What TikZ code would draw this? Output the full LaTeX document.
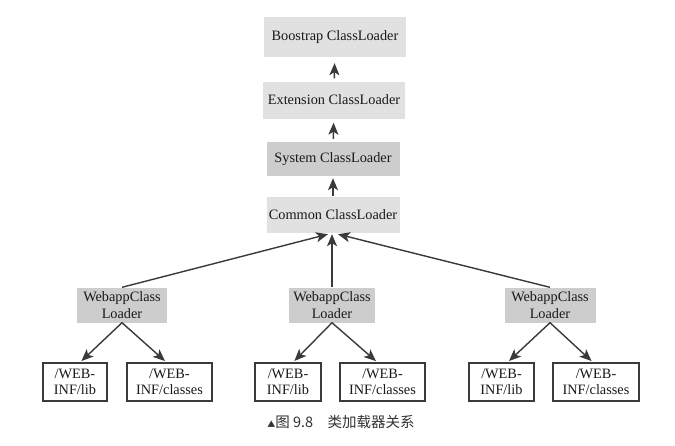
\documentclass[tikz,border=0pt]{standalone}
\usepackage{fontspec}
\setmainfont{Liberation Serif}
\newfontfamily\cjk{Noto Sans CJK SC}
\usetikzlibrary{arrows.meta,calc}
\definecolor{lightbox}{HTML}{E1E1E1}
\definecolor{darkbox}{HTML}{CDCDCD}
\definecolor{linecol}{HTML}{3A3A3A}
\tikzset{
  base/.style={inner sep=0pt, align=center, font=\fontsize{14.3}{16.5}\selectfont, text=black!90},
  lbox/.style={base, fill=lightbox},
  dbox/.style={base, fill=darkbox},
  leaf/.style={base, draw=linecol, line width=1.2pt, fill=white, minimum height=38pt},
  arr/.style={draw=linecol, line width=1.4pt, -{Stealth[length=12pt,width=10pt,inset=3pt]}},
}
\begin{document}
\begin{tikzpicture}[x=1pt,y=-1pt]
\useasboundingbox (0,0) rectangle (675,445);
\fill[white] (0,0) rectangle (675,445);
% top chain
\node[lbox, minimum width=142pt, minimum height=40pt] (boot) at (335,37) {Boostrap ClassLoader};
\node[lbox, minimum width=142pt, minimum height=37pt] (ext) at (334,100) {Extension ClassLoader};
\node[dbox, minimum width=133pt, minimum height=34pt] (sys) at (333,159) {System ClassLoader};
\node[lbox, minimum width=133pt, minimum height=36pt] (com) at (333,215) {Common ClassLoader};
% webapp loaders
\node[dbox, minimum width=90pt, minimum height=35pt] (w1) at (122,305) {WebappClass\\Loader};
\node[dbox, minimum width=86pt, minimum height=35pt] (w2) at (332,305) {WebappClass\\Loader};
\node[dbox, minimum width=91pt, minimum height=35pt] (w3) at (550,305) {WebappClass\\Loader};
% leaves
\node[leaf, minimum width=64pt] (l1) at (75,382) {/WEB-\\INF/lib};
\node[leaf, minimum width=85pt] (c1) at (169.5,382) {/WEB-\\INF/classes};
\node[leaf, minimum width=66pt] (l2) at (288,382) {/WEB-\\INF/lib};
\node[leaf, minimum width=85pt] (c2) at (382.5,382) {/WEB-\\INF/classes};
\node[leaf, minimum width=65pt] (l3) at (501.5,382) {/WEB-\\INF/lib};
\node[leaf, minimum width=86pt] (c3) at (596,382) {/WEB-\\INF/classes};
% chain arrows
\draw[arr, shorten <=3pt, shorten >=6pt] (ext) -- (boot);
\draw[arr, shorten <=3pt, shorten >=4pt] (sys) -- (ext);
\draw[arr, shorten <=1pt, shorten >=2pt] (com) -- (sys);
% webapp to common
\draw[arr] (w1.north) -- ($(com.south)+(-5,1)$);
\draw[arr] (w2.north) -- ($(com.south)+(-1,1)$);
\draw[arr] (w3.north) -- ($(com.south)+(5,1)$);
% webapp to leaves
\draw[arr, shorten >=2pt] (w1.south) -- ($(l1.north)+(5,0)$);
\draw[arr, shorten >=2pt] (w1.south) -- ($(c1.north)+(-3,0)$);
\draw[arr, shorten >=2pt] (w2.south) -- ($(l2.north)+(5,0)$);
\draw[arr, shorten >=2pt] (w2.south) -- ($(c2.north)+(-5,0)$);
\draw[arr, shorten >=2pt] (w3.south) -- ($(l3.north)+(6,0)$);
\draw[arr, shorten >=2pt] (w3.south) -- ($(c3.north)+(-3,0)$);
% caption
\node[inner sep=0pt, text=black!80, font=\cjk\fontsize{14.5}{16}\selectfont] (cap) at (341,422) {{\fontsize{8}{10}\selectfont ▲}图 9.8\hspace{1em}类加载器关系};
\end{tikzpicture}
\end{document}
